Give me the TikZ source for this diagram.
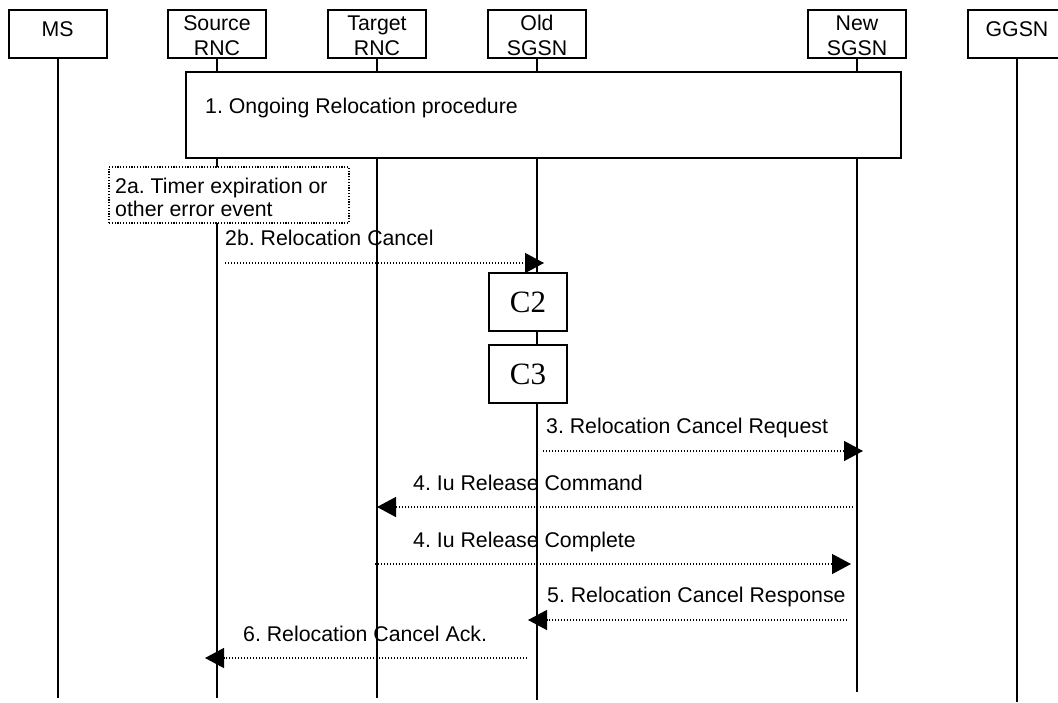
\documentclass[tikz,border=0pt]{standalone}
\usepackage{fontspec}
\setmainfont{Liberation Sans}
\newfontfamily\cserif{Liberation Serif}
\usetikzlibrary{arrows.meta}
\frenchspacing
\begin{document}
\begin{tikzpicture}[x=1pt,y=-1pt,
  font=\fontsize{21.3pt}{25pt}\selectfont,
  hdr/.style={draw, line width=2pt, minimum width=98pt, minimum height=48pt, inner sep=0pt, fill=white},
  txt/.style={inner sep=0pt, anchor=base west},
  ctxt/.style={inner sep=0pt, anchor=base},
  life/.style={line width=2pt},
  msg/.style={line width=1.3pt, dash pattern=on 1.2pt off 1.8pt, -{Triangle[length=19pt,width=20pt]}},
  proc/.style={draw, line width=2pt, fill=white, inner sep=0pt},
  note/.style={draw, line width=1.2pt, dash pattern=on 1.2pt off 1.6pt, fill=white, inner sep=0pt},
  cbox/.style={draw, line width=1.8pt, fill=white, minimum width=78pt, minimum height=58pt, inner sep=0pt, font=\cserif\fontsize{31pt}{31pt}\selectfont}
]
\clip (0,0) rectangle (1058,702);
\fill[white] (0,0) rectangle (1058,702);

% header boxes
\node[hdr] (ms)  at (57.5,34) {};
\node[hdr] (src) at (217,34) {};
\node[hdr] (tgt) at (377,34) {};
\node[hdr] (old) at (537,34) {};
\node[hdr] (new) at (857,34) {};
\node[hdr] (gg)  at (1017,34) {};

% lifeline ends
\coordinate (msE)  at (57.5,698);
\coordinate (srcE) at (217,698);
\coordinate (tgtE) at (377,698);
\coordinate (oldE) at (537,700);
\coordinate (newE) at (857,692);
\coordinate (ggE)  at (1017,702);

\draw[life] (ms.south) -- (msE);
\draw[life] (src.south) -- (srcE);
\draw[life] (tgt.south) -- (tgtE);
\draw[life] (old.south) -- (oldE);
\draw[life] (new.south) -- (newE);
\draw[life] (gg.south) -- (ggE);

% header texts
\node[ctxt] (tms)   at (57.5,36) {MS};
\node[ctxt] (tsrc1) at (217,30) {Source};
\node[ctxt] (tsrc2) at (217,55) {RNC};
\node[ctxt] (ttgt1) at (377,30) {Target};
\node[ctxt] (ttgt2) at (377,55) {RNC};
\node[ctxt] (told1) at (537,30) {Old};
\node[ctxt] (told2) at (537,55) {SGSN};
\node[ctxt] (tnew1) at (857,30) {New};
\node[ctxt] (tnew2) at (857,55) {SGSN};
\node[ctxt] (tgg)   at (1017,36) {GGSN};

% ongoing procedure box
\node[proc, minimum width=715pt, minimum height=86pt] (p1) at (543.5,115) {};
\node[txt] (p1t) at (205,113) {1. Ongoing Relocation procedure};

% 2a note
\node[note, minimum width=240pt, minimum height=56pt] (n2a) at (229,195) {};
\node[txt] (n2a1) at (115,193) {2a. Timer expiration or};
\node[txt] (n2a2) at (115,216) {other error event};

% C2 / C3
\node[cbox] (c2) at (528,302) {C2};
\node[cbox] (c3) at (528,374) {C3};

% messages
\coordinate (m2s) at (225,263); \coordinate (m2e) at (544,263);
\draw[msg] (m2s) -- (m2e);
\node[txt] (m2t) at (225,245) {2b. Relocation Cancel};

\coordinate (m3s) at (543,451); \coordinate (m3e) at (863,451);
\draw[msg] (m3s) -- (m3e);
\node[txt] (m3t) at (546,433) {3. Relocation Cancel Request};

\coordinate (m4s) at (853,507); \coordinate (m4e) at (377,507);
\draw[msg] (m4s) -- (m4e);
\node[txt] (m4t) at (413,490) {4. Iu Release Command};

\coordinate (m4bs) at (375,564); \coordinate (m4be) at (851,564);
\draw[msg] (m4bs) -- (m4be);
\node[txt] (m4bt) at (413,547) {4. Iu Release Complete};

\coordinate (m5s) at (847,620); \coordinate (m5e) at (528,620);
\draw[msg] (m5s) -- (m5e);
\node[txt] (m5t) at (547,602) {5. Relocation Cancel Response};

\coordinate (m6s) at (527,658); \coordinate (m6e) at (205,658);
\draw[msg] (m6s) -- (m6e);
\node[txt] (m6t) at (243,641) {6. Relocation Cancel Ack.};
\end{tikzpicture}
\end{document}
